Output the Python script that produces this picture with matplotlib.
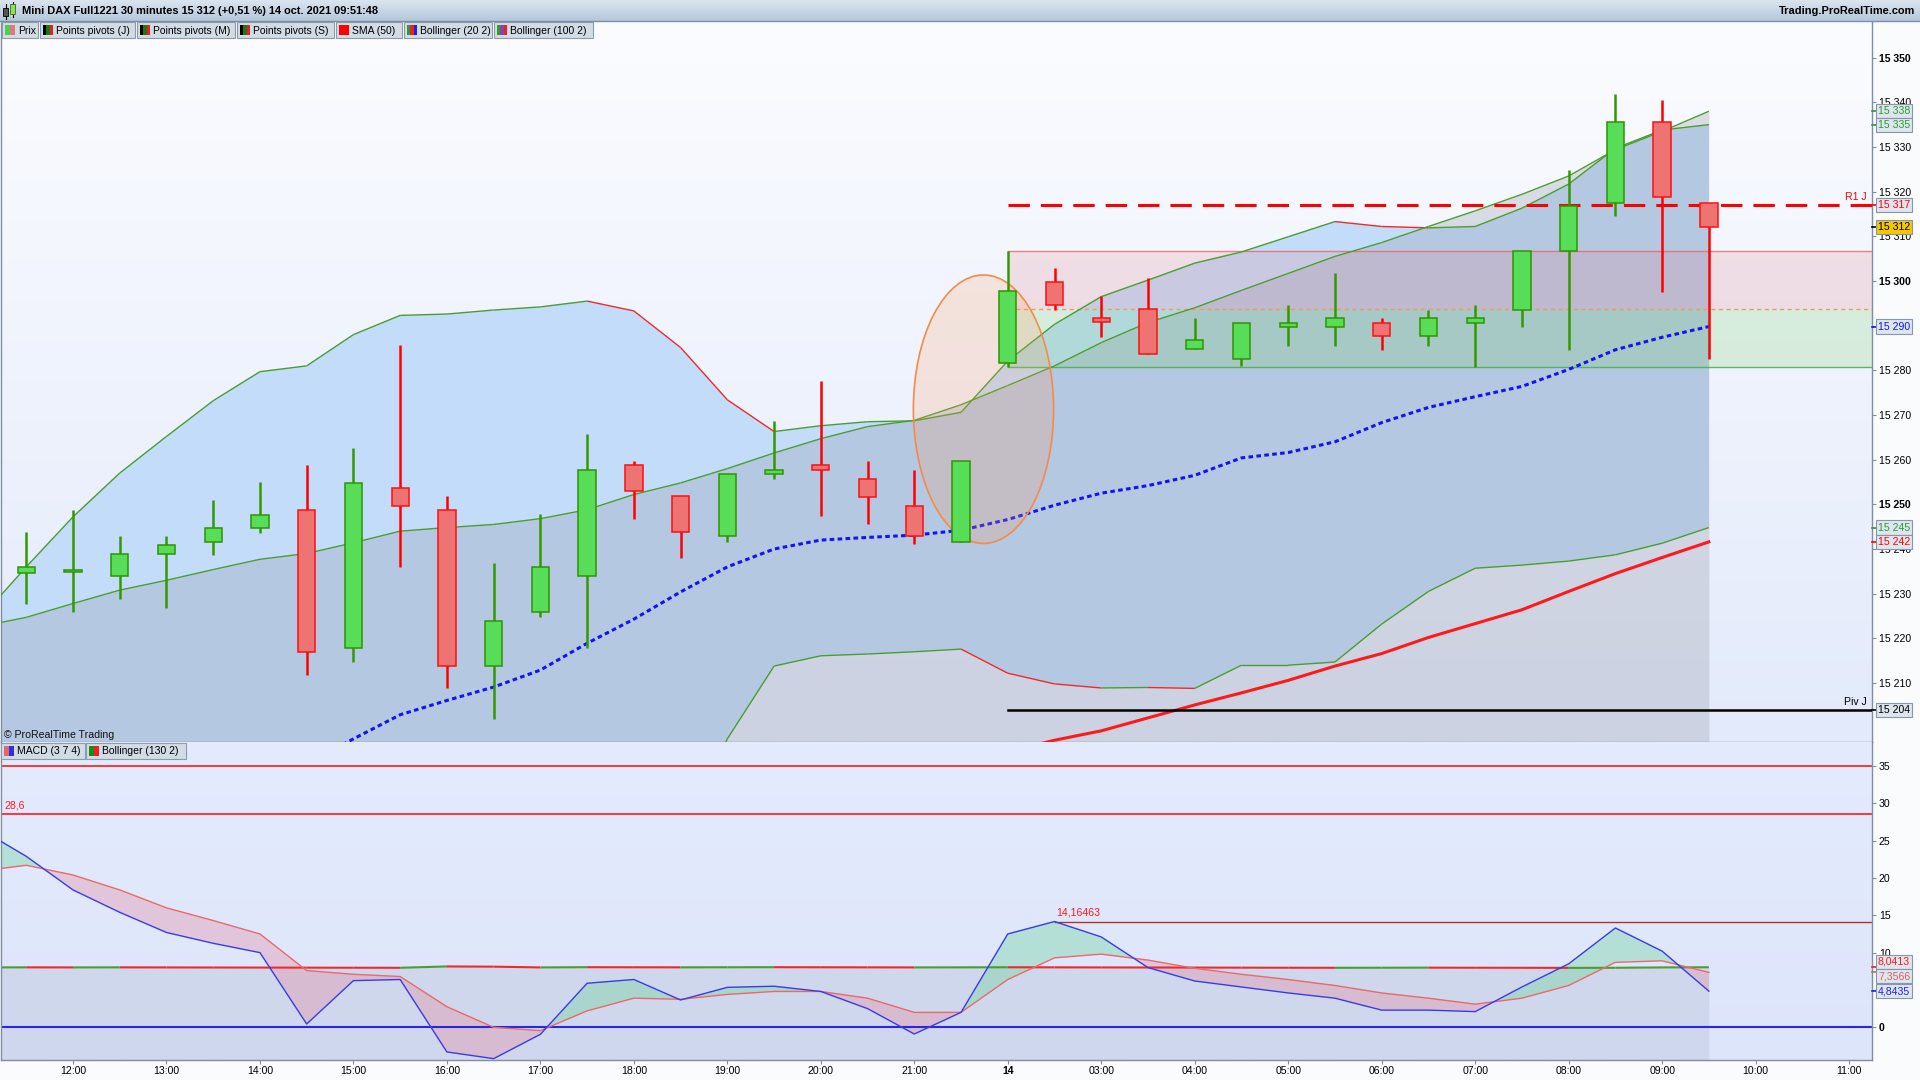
import matplotlib as mpl
mpl.use('Agg')
import matplotlib.pyplot as plt
import matplotlib.transforms as mtransforms
from matplotlib.collections import LineCollection
from matplotlib.colors import LinearSegmentedColormap
from matplotlib.patches import Rectangle, Ellipse
import numpy as np

plt.rcParams['font.family'] = ['Liberation Sans', 'DejaVu Sans']

# bougies 30 min : 13 oct 11:30 -> 14 oct 09:30
opens = [15234.7, 15234.8, 15233.9, 15238.8, 15241.6, 15244.8, 15248.8, 15217.8, 15253.7, 15248.8,
         15213.8, 15225.8, 15233.9, 15258.9, 15251.8, 15242.9, 15256.8, 15258.9, 15255.7, 15249.7,
         15241.6, 15281.6, 15299.8, 15291.7, 15293.7, 15284.7, 15282.6, 15289.6, 15289.6, 15290.7,
         15287.6, 15290.7, 15293.6, 15306.7, 15317.5, 15335.6, 15317.5]
highs = [15243.7, 15248.8, 15242.9, 15242.9, 15250.9, 15254.9, 15258.9, 15262.7, 15285.7, 15251.8,
         15236.8, 15247.8, 15265.8, 15259.8, 15251.8, 15256.8, 15268.7, 15277.7, 15259.8, 15257.8,
         15259.8, 15306.7, 15302.8, 15296.7, 15300.6, 15291.7, 15290.7, 15294.6, 15301.7, 15291.7,
         15293.6, 15294.6, 15306.7, 15324.8, 15341.8, 15340.6, 15317.5]
lows = [15227.8, 15225.8, 15228.7, 15226.7, 15238.7, 15243.6, 15211.7, 15214.8, 15235.9, 15208.9,
        15201.9, 15224.7, 15217.8, 15246.8, 15237.9, 15241.6, 15255.7, 15247.5, 15245.5, 15241.1,
        15241.6, 15280.8, 15293.5, 15287.5, 15283.6, 15284.7, 15280.9, 15285.5, 15285.5, 15284.6,
        15285.5, 15280.7, 15289.6, 15284.6, 15314.6, 15297.6, 15282.6]
closes = [15235.9, 15234.9, 15238.8, 15240.8, 15244.8, 15247.7, 15216.9, 15254.8, 15249.7, 15213.8,
          15223.8, 15235.9, 15257.7, 15252.9, 15243.7, 15256.8, 15257.7, 15257.7, 15251.6, 15242.9,
          15259.8, 15297.7, 15294.6, 15290.8, 15283.6, 15286.7, 15290.7, 15290.7, 15291.7, 15287.6,
          15291.7, 15291.7, 15306.7, 15316.7, 15335.6, 15318.7, 15312.0]

# indicateurs, a partir de la bougie precedente (index -1)
bb20_up = [15224.3, 15236.0, 15247.2, 15257.0, 15265.2, 15273.2, 15279.7, 15281.0, 15288.0, 15292.3,
           15292.6, 15293.5, 15294.2, 15295.5, 15293.3, 15285.1, 15273.4, 15266.3, 15267.6, 15268.5,
           15268.7, 15270.6, 15282.1, 15290.3, 15296.5, 15300.2, 15304.0, 15306.5, 15309.9, 15313.3,
           15312.2, 15311.9, 15312.2, 15316.3, 15321.7, 15329.7, 15333.8, 15335.0]
bb20_mid = [15162.0, 15166.0, 15170.0, 15174.0, 15178.0, 15182.0, 15187.0, 15192.0, 15197.5, 15202.9,
            15206.1, 15209.1, 15212.9, 15218.9, 15224.3, 15230.4, 15236.0, 15240.0, 15242.0, 15242.6,
            15243.1, 15244.2, 15246.6, 15249.8, 15252.5, 15254.2, 15256.5, 15260.4, 15261.6, 15264.0,
            15268.3, 15271.7, 15274.1, 15276.4, 15280.2, 15284.6, 15287.4, 15289.8]
bb20_low = [15100.0, 15096.0, 15093.0, 15091.0, 15091.0, 15091.0, 15094.0, 15103.0, 15107.0, 15113.5,
            15119.6, 15124.7, 15131.6, 15142.3, 15155.3, 15175.7, 15197.5, 15213.8, 15216.1, 15216.5,
            15217.0, 15217.6, 15212.2, 15209.8, 15208.9, 15209.0, 15208.8, 15214.0, 15214.0, 15214.7,
            15223.2, 15230.5, 15235.7, 15236.4, 15237.3, 15238.7, 15241.3, 15244.8]
bb100_up = [15222.6, 15224.7, 15227.8, 15230.8, 15233.0, 15235.4, 15237.7, 15239.0, 15241.4, 15244.0,
            15244.8, 15245.5, 15246.8, 15248.8, 15252.2, 15254.8, 15258.0, 15261.5, 15264.7, 15267.4,
            15268.8, 15272.3, 15276.6, 15281.0, 15286.2, 15290.7, 15294.0, 15297.9, 15301.7, 15305.5,
            15308.6, 15312.2, 15315.7, 15319.4, 15323.5, 15329.4, 15333.5, 15338.0]
bb100_low = [15150.0, 15150.5, 15151.0, 15151.5, 15152.0, 15152.5, 15153.0, 15153.0, 15153.5, 15154.0,
             15154.0, 15154.5, 15155.0, 15155.0, 15155.5, 15156.0, 15156.0, 15156.5, 15157.0, 15157.0,
             15157.5, 15158.0, 15158.0, 15158.5, 15159.0, 15159.0, 15159.5, 15160.0, 15160.0, 15160.5,
             15161.0, 15161.0, 15161.5, 15162.0, 15162.0, 15162.5, 15163.0, 15163.0]
# SMA 50, partie visible (a partir de la bougie 21)
sma50 = [15194.6, 15197.2, 15199.3, 15202.2, 15205.1, 15207.8, 15210.6, 15213.8, 15216.6, 15220.2,
         15223.3, 15226.4, 15230.5, 15234.5, 15238.1, 15241.6]

macd = [26.6, 22.9, 18.4, 15.4, 12.7, 11.25, 10.0, 0.44, 6.25, 6.4, -3.3, -4.2, -0.94, 5.9, 6.4,
        3.66, 5.35, 5.5, 4.8, 2.5, -0.9, 2.0, 12.5, 14.16463, 12.1, 8.0, 6.2, 5.4, 4.6, 3.9, 2.3,
        2.3, 2.1, 5.4, 8.5, 13.3, 10.2, 4.8435]
signal = [20.9, 21.7, 20.4, 18.4, 16.0, 14.3, 12.5, 7.6, 7.1, 6.8, 2.76, 0.0, -0.45, 2.2, 3.9,
          3.75, 4.4, 4.8, 4.8, 3.9, 2.0, 2.0, 6.4, 9.3, 9.8, 9.0, 7.9, 7.1, 6.4, 5.6, 4.6,
          3.9, 3.1, 3.9, 5.6, 8.7, 8.9, 7.3566]
bb130_up = [8.02, 8.03, 8.02, 8.03, 8.02, 8.01, 8.0, 7.99, 7.98, 7.97, 8.15, 8.12, 8.02, 8.05, 8.04,
            8.03, 8.04, 8.05, 8.04, 8.03, 8.02, 8.03, 8.04, 8.03, 8.02, 8.01, 8.0, 7.99, 7.98, 7.97,
            7.98, 7.99, 7.98, 7.97, 7.96, 7.97, 8.02, 8.0413]

r1_day = 15317
piv_day = 15204
macd_levels = [35, 28.6]
macd_max = 14.16463

time_labels = ['12:00', '13:00', '14:00', '15:00', '16:00', '17:00', '18:00', '19:00', '20:00', '21:00',
               '14', '03:00', '04:00', '05:00', '06:00', '07:00', '08:00', '09:00', '10:00', '11:00']

GREEN = '#4c9d2f'
RED = '#f02a2a'
W, H = 1920, 1080
XLIM = (-0.54, 39.49)


def frac(x0, y0, x1, y1):
    return [x0 / W, 1 - y1 / H, (x1 - x0) / W, (y1 - y0) / H]


def sep(v):
    return f"{int(round(v)):,}".replace(',', ' ')


def band_line(axis, xs, ys, lw=1.0, z=3):
    pts = np.column_stack([xs, ys])
    segs = np.stack([pts[:-1], pts[1:]], axis=1)
    cols = [GREEN if ys[k + 1] >= ys[k] else RED for k in range(len(ys) - 1)]
    axis.add_collection(LineCollection(segs, colors=cols, linewidths=lw, zorder=z))


def gradient(axis, extent, c_top, c_bot, z=0):
    cmap = LinearSegmentedColormap.from_list('g', [c_top, c_bot])
    axis.imshow(np.linspace(0, 1, 256).reshape(-1, 1), cmap=cmap, aspect='auto',
                extent=extent, origin='upper', zorder=z)


def value_box(axis, y, text, color, fc='#dde5ee', tick_y=None):
    tr = mtransforms.blended_transform_factory(axis.transAxes, axis.transData)
    ty = y if tick_y is None else tick_y
    axis.plot([1.0, 1.003], [ty, ty], transform=tr, color=color, lw=1.2, clip_on=False, zorder=19)
    axis.text(1.0032, y, text, transform=tr, color=color, fontsize=7.6, va='center', ha='left',
              bbox=dict(boxstyle='square,pad=0.2', fc=fc, ec='#8597a9', lw=0.8),
              clip_on=False, zorder=20)


fig = plt.figure(figsize=(19.2, 10.8), dpi=100, facecolor='#fafbfd')
ax = fig.add_axes(frac(1, 21, 1872, 742))
axm = fig.add_axes(frac(1, 742, 1872, 1060))
ov = fig.add_axes([0, 0, 1, 1])

# ---------------- panneau prix ----------------
YLIM = (15196.8, 15358.2)
gradient(ax, [XLIM[0], XLIM[1], YLIM[0], YLIM[1]], '#fbfcff', '#e3eafb')

xl = np.arange(-1, len(bb20_up) - 1)
ax.fill_between(xl, bb20_low, bb20_up, color='#c2dcfa', lw=0, zorder=1)
ax.fill_between(xl, bb100_low, bb100_up, color='#999dac', alpha=0.31, lw=0, zorder=1.1)

# zone d'ouverture du jour (premiere bougie du 14)
d0 = time_labels.index('14') * 2 + 1
hi0, lo0 = highs[d0], lows[d0]
mid0 = (hi0 + lo0) / 2
ax.add_patch(Rectangle((d0, mid0), XLIM[1] - d0, hi0 - mid0, fc='#e67f86', alpha=0.2, lw=0, zorder=1.2))
ax.add_patch(Rectangle((d0, lo0), XLIM[1] - d0, mid0 - lo0, fc='#71cf5c', alpha=0.2, lw=0, zorder=1.2))
ax.plot([d0, XLIM[1]], [hi0, hi0], color='#e26a6a', lw=1.0, alpha=0.8, zorder=1.3)
ax.plot([d0, XLIM[1]], [lo0, lo0], color='#4cb050', lw=1.0, alpha=0.9, zorder=1.3)
ax.plot([d0, XLIM[1]], [mid0, mid0], color='#f49a60', lw=1.0, ls=(0, (3, 2.5)), zorder=1.3)

band_line(ax, xl, bb20_up)
band_line(ax, xl, bb20_low)
band_line(ax, xl, bb100_up)
ax.plot(xl, bb20_mid, color='#1414f0', lw=2.2, ls=(0, (1.5, 1.1)), zorder=3)
xs = np.arange(d0, d0 + len(sma50))
ax.plot(xs, sma50, color='#ff1a1a', lw=2.2, zorder=3)

# pivots
ax.plot([d0, XLIM[1]], [r1_day, r1_day], color='#ff0000', lw=2.2, ls=(0, (7, 3.6)), zorder=3.2)
ax.plot([d0, XLIM[1]], [piv_day, piv_day], color='black', lw=1.8, zorder=3.2)
ax.text(39.37, r1_day + 0.6, 'R1 J', color='#ff0000', fontsize=7.6, ha='right', va='bottom', zorder=6)
ax.text(39.37, piv_day + 0.6, 'Piv J', color='black', fontsize=7.6, ha='right', va='bottom', zorder=6)

# ellipse tracee
ax.add_patch(Ellipse((20.48, 15271.3), 3.0, 60.1, fc='#ff9a5a', alpha=0.2, lw=0, zorder=3.4))
ax.add_patch(Ellipse((20.48, 15271.3), 3.0, 60.1, fc='none', ec='#f58a4a', lw=1.2, zorder=3.5))

# bougies
o = np.array(opens)
c = np.array(closes)
xc = np.arange(len(o))
up = c >= o
wick_col = np.where(up, '#339900', '#ff0000')
body_col = np.where(up, '#58dd58', '#ee7474')
edge_col = np.where(up, '#2f9400', '#ff1010')
ax.vlines(xc, lows, highs, colors=wick_col, lw=1.8, zorder=4)
ax.bar(xc, np.maximum(np.abs(c - o), 0.6), bottom=np.minimum(o, c), width=0.37,
       color=body_col, edgecolor=edge_col, linewidth=1.1, zorder=5)

ax.set_xlim(*XLIM)
ax.set_ylim(*YLIM)
ax.yaxis.tick_right()
yt = np.arange(15210, 15351, 10)
ax.set_yticks(yt, [sep(v) for v in yt])
for v, lab in zip(yt, ax.get_yticklabels()):
    if v % 50 == 0:
        lab.set_fontweight('bold')
        lab.set_fontsize(8.6)
ax.tick_params(axis='y', labelsize=7.6, length=3, pad=2, color='#7d8fa3')
ax.tick_params(axis='x', length=0, labelbottom=False)
ax.spines['top'].set_visible(False)
for s in ['left', 'right', 'bottom']:
    ax.spines[s].set_color('#7d8fa3')
    ax.spines[s].set_linewidth(1.0)

value_box(ax, bb100_up[-1], sep(bb100_up[-1]), '#2f9a2f')
value_box(ax, bb20_up[-1], sep(bb20_up[-1]), '#2f9a2f')
value_box(ax, r1_day, sep(r1_day), '#ff0000')
value_box(ax, closes[-1], sep(closes[-1]), 'black', fc='#f7c600')
value_box(ax, bb20_mid[-1], sep(bb20_mid[-1]), '#1414f0')
value_box(ax, bb20_low[-1], sep(bb20_low[-1]), '#2f9a2f')
value_box(ax, sma50[-1], sep(sma50[-1]), '#ff0000')
value_box(ax, piv_day, sep(piv_day), 'black')

# ---------------- panneau MACD ----------------
MLIM = (-4.38, 38.21)
gradient(axm, [XLIM[0], XLIM[1], MLIM[0], MLIM[1]], '#e4ebfd', '#dde5fb')
axm.fill_between(xl, -10, bb130_up, color='#a3aec5', alpha=0.25, lw=0, zorder=0.5)
m = np.array(macd)
sg = np.array(signal)
axm.fill_between(xl, m, sg, where=m >= sg, interpolate=True, color='#6fd39a', alpha=0.38, lw=0, zorder=1)
axm.fill_between(xl, m, sg, where=m < sg, interpolate=True, color='#e58fa5', alpha=0.38, lw=0, zorder=1)
band_line(axm, xl, bb130_up, lw=1.5, z=2)
for lv in macd_levels:
    axm.axhline(lv, color='#ff1a1a', lw=1.2, zorder=2)
axm.text(XLIM[0] + 0.08, macd_levels[1] + 0.5, '28,6', color='#ff1a1a', fontsize=7.6, va='bottom', ha='left')
# plus haut du MACD depuis l'ouverture du 14
imax = d0 + int(np.argmax(m[d0 + 1:]))
axm.plot([imax, XLIM[1]], [macd_max, macd_max], color='#b83030', lw=1.0, zorder=2)
axm.text(imax + 0.03, macd_max + 0.5, f"{macd_max:.5f}".replace('.', ','), color='#ff1a1a',
         fontsize=7.6, va='bottom', ha='left')
axm.axhline(0, color='#2828e0', lw=1.5, zorder=2)
axm.plot(xl, signal, color='#e86a6a', lw=1.0, zorder=3)
axm.plot(xl, macd, color='#3a3ae6', lw=1.0, zorder=3)

axm.set_xlim(*XLIM)
axm.set_ylim(*MLIM)
axm.yaxis.tick_right()
mt = np.arange(0, 36, 5)
axm.set_yticks(mt, [str(v) for v in mt])
axm.get_yticklabels()[0].set_fontweight('bold')
axm.get_yticklabels()[0].set_fontsize(8.6)
axm.tick_params(axis='y', labelsize=7.6, length=3, pad=2, color='#7d8fa3')
axm.set_xticks(np.arange(1, 40, 2), time_labels)
for lab in axm.get_xticklabels():
    if lab.get_text() == '14':
        lab.set_fontweight('bold')
axm.tick_params(axis='x', labelsize=7.6, length=3, pad=1, color='#7d8fa3')
axm.spines['top'].set_visible(False)
for s in ['left', 'right', 'bottom']:
    axm.spines[s].set_color('#7d8fa3')
    axm.spines[s].set_linewidth(1.0)

value_box(axm, 8.79, f"{bb130_up[-1]:.4f}".replace('.', ','), '#ff1a1a', tick_y=bb130_up[-1])
value_box(axm, 6.87, f"{signal[-1]:.4f}".replace('.', ','), '#e06060', tick_y=signal[-1])
value_box(axm, macd[-1], f"{macd[-1]:.4f}".replace('.', ','), '#2323e0')

# ---------------- en-tete et legendes ----------------
ov.set_xlim(0, W)
ov.set_ylim(H, 0)
ov.axis('off')
ov.patch.set_alpha(0)
gradient(ov, [0, W, 21, 0], '#dbe5ef', '#b4c7da', z=1)
ov.set_xlim(0, W)
ov.set_ylim(H, 0)
ov.plot([0, W], [21, 21], color='#7d8fa3', lw=1, zorder=2)
# icone bougies
ov.plot([5.5, 5.5], [4, 19], color='black', lw=0.8, zorder=3)
ov.add_patch(Rectangle((3, 8), 5, 8, fc='#555555', ec='black', lw=0.6, zorder=3))
ov.plot([12.5, 12.5], [2, 17], color='black', lw=0.8, zorder=3)
ov.add_patch(Rectangle((10, 4), 5, 10, fc='#8de34f', ec='#3a6a1a', lw=0.6, zorder=3))
ov.text(22, 11, 'Mini DAX Full1221 30 minutes 15 312 (+0,51 %) 14 oct. 2021 09:51:48',
        fontsize=7.9, fontweight='bold', va='center', ha='left', zorder=3)
ov.text(1915, 11, 'Trading.ProRealTime.com', fontsize=7.9, fontweight='bold',
        va='center', ha='right', zorder=3)


def legend_box(x0, x1, y0, y1, colors, text):
    ov.add_patch(Rectangle((x0, y0), x1 - x0, y1 - y0, fc='#d2dce5', ec='#8d9cab', lw=0.8, zorder=4))
    iw = 10
    for k, col in enumerate(colors):
        ov.add_patch(Rectangle((x0 + 3 + k * iw / len(colors), y0 + 3), iw / len(colors), y1 - y0 - 6,
                               fc=col, ec='none', zorder=5))
    ov.text(x0 + 16, (y0 + y1) / 2 + 0.5, text, fontsize=7.5, va='center', ha='left', zorder=5)


pp = ['#000000', '#157a15', '#ee1c1c']
legend_box(2, 38, 22, 38, ['#4cd04c', '#e07a7a'], 'Prix')
legend_box(40, 135, 22, 38, pp, 'Points pivots (J)')
legend_box(137, 235, 22, 38, pp, 'Points pivots (M)')
legend_box(237, 334, 22, 38, pp, 'Points pivots (S)')
legend_box(336, 402, 22, 38, ['#ff0000'], 'SMA (50)')
legend_box(404, 492, 22, 38, ['#2e9e2e', '#ee2020', '#2020ee'], 'Bollinger (20 2)')
legend_box(494, 593, 22, 38, ['#2e9e2e', '#8844aa', '#ee2020'], 'Bollinger (100 2)')
legend_box(1, 85, 743, 759, ['#e06a6a', '#3030e0'], 'MACD (3 7 4)')
legend_box(86, 186, 743, 759, ['#1a8a1a', '#ee2020'], 'Bollinger (130 2)')
ov.text(4, 735, '\u00a9 ProRealTime Trading', fontsize=7.6, va='center', ha='left', color='#111111', zorder=5)

fig.savefig('out.png', dpi=100, facecolor=fig.get_facecolor())
